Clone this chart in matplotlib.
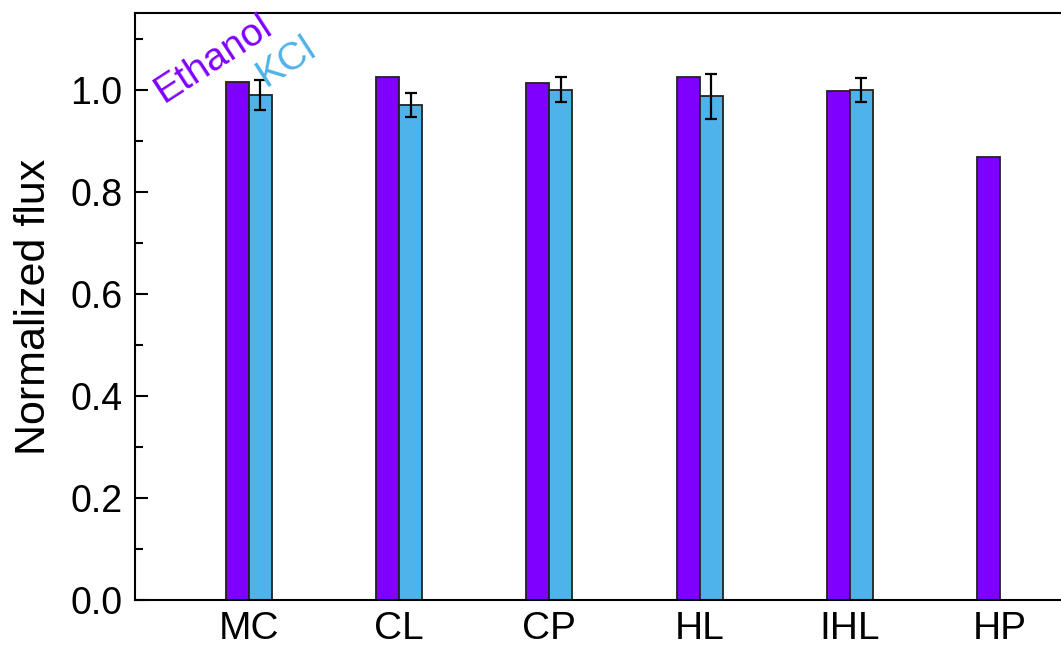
import matplotlib
matplotlib.use("Agg")
import matplotlib.pyplot as plt
import numpy as np
from matplotlib.ticker import MultipleLocator

plt.rcParams['font.family'] = ['Liberation Sans', 'DejaVu Sans']

# dane
samples = ['MC', 'CL', 'CP', 'HL', 'IHL', 'HP']
ethanol = [1.015, 1.025, 1.014, 1.026, 0.999, 0.868]
kcl = [0.990, 0.971, 1.001, 0.988, 1.000, np.nan]
kcl_err = [0.030, 0.023, 0.025, 0.044, 0.023, np.nan]

x = np.arange(len(samples))
w = 0.153

fig = plt.figure(figsize=(10.61, 6.47), dpi=100)
ax = fig.add_axes([0.1272, 0.0726, 0.8728, 0.9073])

ax.bar(x - w / 2, ethanol, w, color='#8000FF', edgecolor='#222222', linewidth=1.3)
ax.bar(x + w / 2, kcl, w, color='#4EB3EA', edgecolor='#222222', linewidth=1.3)
ax.errorbar(x + w / 2, kcl, yerr=kcl_err, fmt='none', ecolor='black',
            elinewidth=1.6, capsize=4, capthick=1.6)

ax.set_xlim(-0.759, 5.406)
ax.set_ylim(0, 1.151)
ax.set_xticks(x)
ax.set_xticklabels(samples)
ax.yaxis.set_major_locator(MultipleLocator(0.2))
ax.yaxis.set_minor_locator(MultipleLocator(0.1))
ax.yaxis.set_major_formatter(matplotlib.ticker.FormatStrFormatter('%.1f'))
ax.tick_params(axis='y', which='major', direction='in', length=9, width=1.5, labelsize=27, pad=9)
ax.tick_params(axis='y', which='minor', direction='in', length=6, width=1.5)
ax.tick_params(axis='x', length=0, labelsize=28, pad=8)
ax.set_ylabel('Normalized flux', fontsize=31, labelpad=12)

for s in ['left', 'top', 'bottom']:
    ax.spines[s].set_linewidth(1.5)
ax.spines['right'].set_visible(False)

# podpisy serii (zamiast legendy)
ax.text(-0.57, 0.975, 'Ethanol', color='#8000FF', fontsize=28, rotation=33,
        rotation_mode='anchor', ha='left', va='baseline')
ax.text(0.11, 1.005, 'KCl', color='#4EB3EA', fontsize=28, rotation=33,
        rotation_mode='anchor', ha='left', va='baseline')

fig.savefig('out.png', dpi=100)
